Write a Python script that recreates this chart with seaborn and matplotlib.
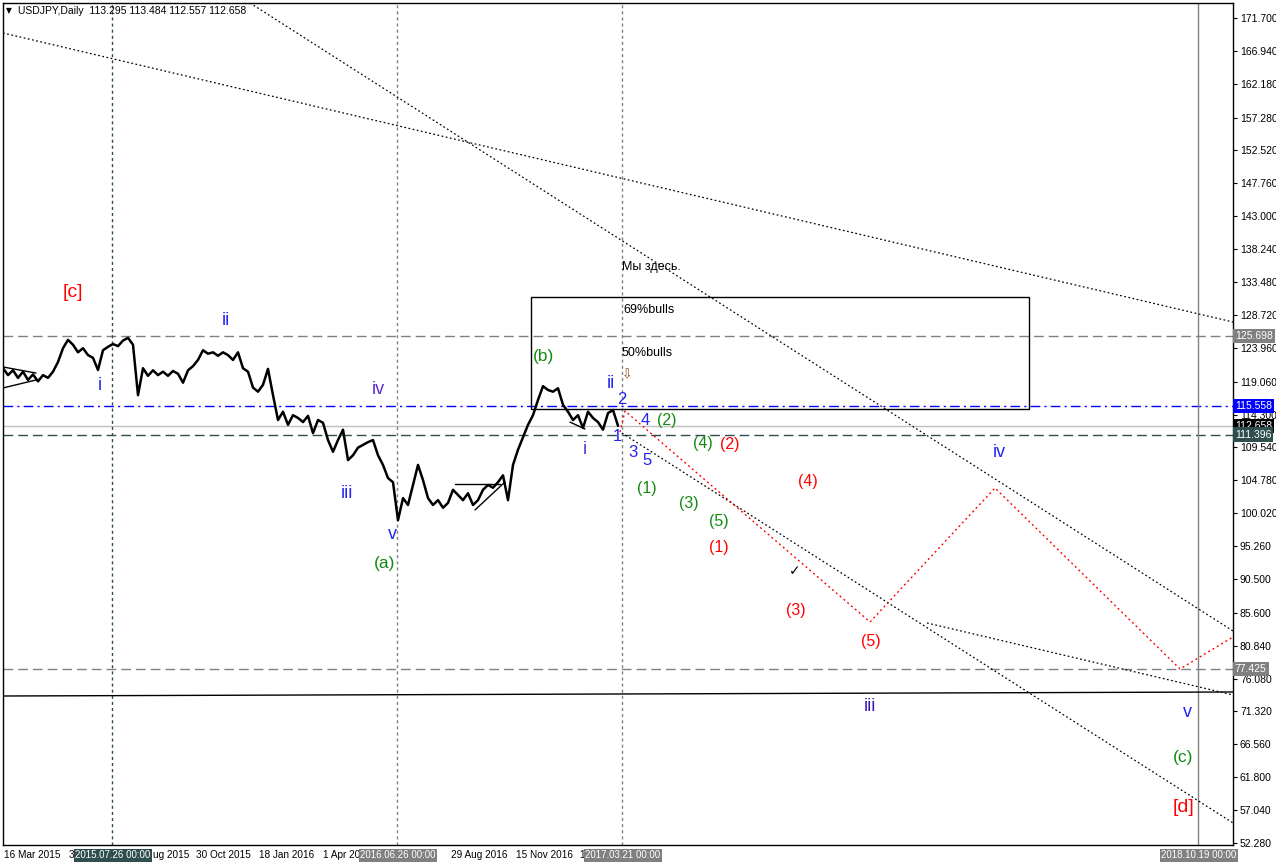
import numpy as np
import pandas as pd
import matplotlib
matplotlib.use('Agg')
import matplotlib.pyplot as plt
import seaborn as sns
from matplotlib.patches import Rectangle

sns.set_style('white')
plt.rcParams['font.family'] = ['Liberation Sans', 'DejaVu Sans']

# ---------------- data ----------------
close = [121.0, 120.0, 120.7, 119.6, 120.5, 119.3, 120.1, 119.1, 120.0, 119.6,
         120.5, 121.9, 123.9, 125.1, 124.4, 123.3, 123.9, 122.9, 122.5, 120.75,
         123.6, 124.1, 124.5, 124.2, 125.0, 125.4, 124.4, 117.1, 121.0, 119.9,
         120.7, 120.0, 120.5, 119.9, 120.6, 120.2, 118.9, 120.7, 121.3, 122.2,
         123.6, 123.1, 123.3, 122.8, 123.3, 122.9, 122.2, 123.3, 121.0, 120.5,
         118.2, 117.6, 118.6, 120.9, 117.1, 113.5, 114.7, 112.8, 114.2, 113.8,
         113.2, 114.1, 111.6, 113.5, 113.1, 110.6, 108.9, 110.6, 112.1, 107.7,
         108.4, 109.5, 109.9, 110.3, 110.6, 108.4, 107.0, 105.1, 104.5, 99.0,
         102.2, 101.2, 104.1, 107.0, 104.8, 102.2, 101.2, 101.9, 100.8, 101.5,
         103.4, 102.65, 101.9, 102.9, 101.2, 101.9, 103.4, 104.1, 103.7, 104.5,
         105.5, 101.9, 107.0, 109.2, 111.0, 112.8, 114.2, 116.4, 118.4, 117.85,
         117.6, 118.1, 115.7, 114.7, 113.5, 114.2, 112.35, 114.7, 113.8, 113.2,
         112.1, 114.5, 114.95, 112.66]
slot_step = 5

y_ticks = [171.700, 166.940, 162.180, 157.280, 152.520, 147.760, 143.000, 138.240,
           133.480, 128.720, 123.960, 119.060, 114.300, 109.540, 104.780, 100.020,
           95.260, 90.500, 85.600, 80.840, 76.080, 71.320, 66.560, 61.800, 57.040, 52.280]

# date ticks on the time axis; labels partly hidden by the crosshair boxes
date_slots = [0, 65, 129, 192, 255, 319, 382, 447, 512, 575]
date_label_slots = [0, 65, 149, 192, 255, 319, 447, 512, 575]
date_labels = ['16 Mar 2015', '3', 'ug 2015', '30 Oct 2015', '18 Jan 2016',
               '1 Apr 20', '29 Aug 2016', '15 Nov 2016', '1']

# vertical markers: (slot, label, color, style)
vlines = [(109, '2015.07.26 00:00', '#2f4f4f', 'dash'),
          (394, '2016.06.26 00:00', '#808080', 'dash'),
          (619, '2017.03.21 00:00', '#808080', 'dash'),
          (1195, '2018.10.19 00:00', '#808080', 'solid')]

# horizontal levels: (price, line color, box color, style)
hlevels = [(125.698, '#808080', '#808080', 'long'),
           (115.558, '#0000ff', '#0000ff', 'dashdot'),
           (112.658, '#c0c0c0', '#000000', 'solid'),
           (111.396, '#2f4f4f', '#2f4f4f', 'long'),
           (77.425, '#808080', '#808080', 'long')]

# trend lines (slot, price) pairs
dotted_lines = [[(0, 169.53), (1230, 127.69)],
                [(247, 173.87), (1230, 82.96)],
                [(619, 111.62), (1230, 55.17)],
                [(924, 84.12), (1230, 73.70)]]
solid_lines = [[(0, 73.55), (1230, 74.13)],
               [(0, 121.18), (33, 120.30)],
               [(0, 118.14), (33, 119.30)],
               [(452, 104.24), (497, 104.24)],
               [(472, 100.48), (502, 104.53)],
               [(567, 113.2), (582, 112.2)]]
forecast_path = [(617, 111.77), (622, 114.81), (867, 84.27), (992, 103.66),
                 (1177, 77.46), (1230, 82.10)]
box = (528, 1026, 115.10, 131.31)

blue = '#2424f0'
purp = '#5a2bd0'
green = '#138a13'
red = '#ff0000'
wave_labels = [('[c]', 70, 131.9, red, 14), ('ii', 223, 127.98, blue, 13),
               ('i', 97, 118.57, blue, 13), ('iv', 375, 117.85, purp, 13),
               ('iii', 344, 102.8, blue, 13), ('v', 389, 96.86, blue, 13),
               ('(a)', 382, 92.66, green, 12.5), ('(b)', 540, 122.63, green, 12.5),
               ('ii', 608, 118.72, blue, 13), ('i', 582, 109.2, purp, 13),
               ('2', 619, 116.4, blue, 12), ('1', 614, 111.05, blue, 12),
               ('4', 642, 113.5, blue, 12), ('(2)', 664, 113.36, green, 11.5),
               ('3', 630, 108.87, blue, 12), ('5', 644, 107.57, blue, 12),
               ('(4)', 700, 110.03, green, 11.5), ('(2)', 727, 109.89, red, 11.5),
               ('(1)', 644, 103.52, green, 11.5), ('(4)', 805, 104.53, red, 11.5),
               ('(3)', 686, 101.35, green, 11.5), ('(5)', 716, 98.74, green, 11.5),
               ('(1)', 716, 94.98, red, 11.5), ('\u2713', 792, 91.65, '#000000', 10),
               ('(3)', 793, 85.86, red, 11.5), ('(5)', 868, 81.37, red, 11.5),
               ('iv', 996, 108.73, blue, 13), ('iii', 867, 72.1, '#3a1ab0', 13),
               ('v', 1184, 71.1, blue, 13), ('(c)', 1180, 64.58, green, 12.5),
               ('[d]', 1180, 57.34, red, 14)]
notes = [('Мы здесь.', 619, 135.65), ('69%bulls', 620, 129.43), ('50%bulls', 619, 123.21)]

# ---------------- figure ----------------
W, H = 1276, 866
fig = plt.figure(figsize=(W / 100, H / 100), dpi=100)
fig.patch.set_facecolor('white')
ax = fig.add_axes([3 / W, (H - 845) / H, (1233 - 3) / W, (845 - 3) / H])
ax.set_facecolor('white')

ax.set_xlim(0, 1230)
ax.set_ylim(51.98, 173.87)

df = pd.DataFrame({'slot': np.arange(len(close)) * slot_step, 'price': close})

styles = {'long': (0, (7, 3.6)), 'dashdot': (0, (7, 3, 1.5, 3)), 'solid': '-'}
for price, lc, bc, st in hlevels:
    ax.axhline(price, color=lc, lw=1.0, linestyle=styles[st], zorder=1)

for slot, lab, col, st in vlines:
    if st == 'solid':
        ax.axvline(slot, color=col, lw=1.0, zorder=1)
    else:
        ax.axvline(slot, color=col, lw=1.0, linestyle=(0, (2.2, 2.2)), zorder=1)

for seg in dotted_lines:
    xs, ys = zip(*seg)
    ax.plot(xs, ys, color='black', lw=0.9, linestyle=(0, (1.4, 2.0)), zorder=2)
for seg in solid_lines:
    xs, ys = zip(*seg)
    ax.plot(xs, ys, color='black', lw=1.0, zorder=2)
xs, ys = zip(*forecast_path)
ax.plot(xs, ys, color=red, lw=1.0, linestyle=(0, (1.4, 2.2)), zorder=2)

ax.add_patch(Rectangle((box[0], box[2]), box[1] - box[0], box[3] - box[2],
                       fill=False, ec='black', lw=1.0, zorder=2))

sns.lineplot(data=df, x='slot', y='price', ax=ax, color='black', lw=1.8, zorder=3)

for txt, sx, p, col, fs in wave_labels:
    ax.text(sx, p, txt, color=col, fontsize=fs, ha='center', va='center', zorder=4,
            family=['Liberation Sans', 'DejaVu Sans'])
for txt, sx, p in notes:
    ax.text(sx, p, txt, color='black', fontsize=9, ha='left', va='center', zorder=4)
ax.text(624, 120.0, '\u21e9', color='#8b4513', fontsize=9, ha='center', va='center',
        family=['DejaVu Sans'], zorder=4)

# axes styling
for s in ax.spines.values():
    s.set_color('black')
    s.set_linewidth(1.0)
ax.set_xlabel('')
ax.set_ylabel('')
ax.yaxis.tick_right()
ax.set_yticks(y_ticks)
ax.set_yticklabels([f'{v:.3f}' for v in y_ticks])
ax.tick_params(axis='y', direction='out', length=3, width=0.8, pad=2, labelsize=7.5,
               colors='black')
ax.set_xticks(date_slots)
ax.set_xticklabels([])
ax.tick_params(axis='x', direction='in', length=3, width=0.8)

xform = ax.get_xaxis_transform()
for sx, lab in zip(date_label_slots, date_labels):
    ax.text(sx + 1, -0.012, lab, transform=xform, ha='left', va='center',
            fontsize=7.2, color='black', clip_on=False)
for slot, lab, col, st in vlines:
    ax.text(slot + 1, -0.012, lab, transform=xform, ha='center', va='center',
            fontsize=7.0, color='white', clip_on=False,
            bbox=dict(boxstyle='square,pad=0.15', fc=col, ec='none'))

yform = ax.get_yaxis_transform()
for price, lc, bc, st in hlevels:
    ax.text(1.0015, price, f'{price:.3f}', transform=yform, ha='left', va='center',
            fontsize=7.5, color='white', clip_on=False,
            bbox=dict(boxstyle='square,pad=0.2', fc=bc, ec='none'))

fig.text(6 / W, 1 - 11 / H, '\u25bc', fontsize=5.5, color='black', va='center',
         family=['DejaVu Sans'])
fig.text(18 / W, 1 - 11 / H, 'USDJPY,Daily  113.295 113.484 112.557 112.658',
         fontsize=7.5, color='black', va='center')

fig.savefig('out.png', dpi=100, facecolor='white')
